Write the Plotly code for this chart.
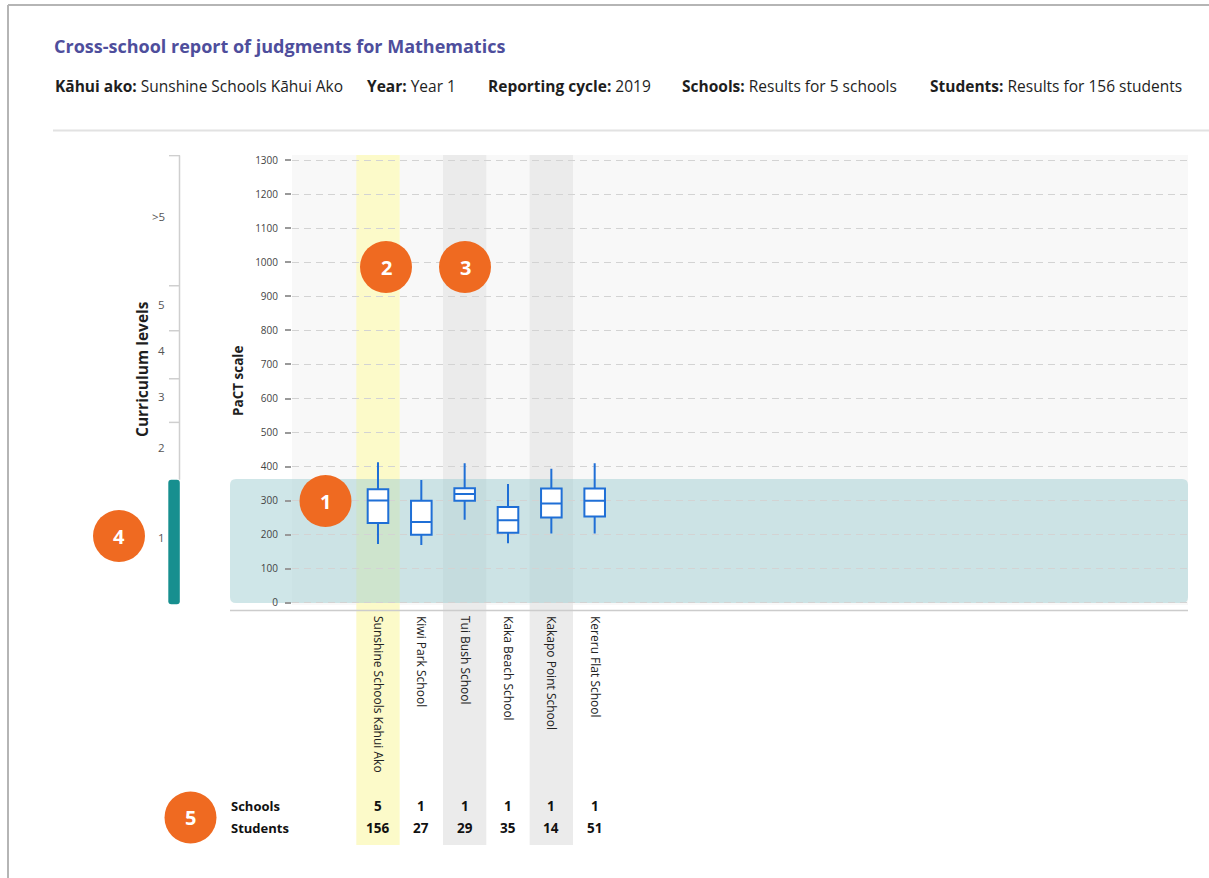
import plotly.graph_objects as go

# ---------------- data ----------------
schools = ["Sunshine Schools Kahui Ako", "Kiwi Park School", "Tui Bush School",
           "Kaka Beach School", "Kakapo Point School", "Kereru Flat School"]
upper_whisker = [413, 361, 410, 349, 394, 410]
q3_values = [334, 300, 337, 282, 336, 336]
medians = [301, 238, 320, 243, 292, 300]
q1_values = [235, 200, 300, 206, 251, 254]
lower_whisker = [173, 170, 244, 175, 204, 204]
school_counts = [5, 1, 1, 1, 1, 1]
student_counts = [156, 27, 29, 35, 14, 51]
pact_ticks = list(range(0, 1301, 100))
level_labels = ["1", "2", "3", "4", "5", ">5"]
level_bounds = [0, 362, 530, 658, 799, 931, 1313]

# ---------------- styles ----------------
column_fill = ["#fcfac9", None, "#ebebeb", None, "#ebebeb", None]
FONT = "Open Sans"
ORANGE = "#ef6a21"
BOX_BLUE = "#1f6fd6"

W, H = 1209, 878
L, R, T, B = 292, 1188, 155, 605
Y_RANGE = [-5.9, 1314.7]
X_RANGE = [-1.984, 18.69]


def px(x):
    return (x - L) / (R - L)


def py(y):
    return (B - y) / (B - T)


y_ppu = (B - T) / (Y_RANGE[1] - Y_RANGE[0])


def rounded_path(x0, x1, y0, y1, rx, ry):
    return (f"M {x0 + rx},{y0} L {x1 - rx},{y0} Q {x1},{y0} {x1},{y0 + ry} "
            f"L {x1},{y1 - ry} Q {x1},{y1} {x1 - rx},{y1} L {x0 + rx},{y1} "
            f"Q {x0},{y1} {x0},{y1 - ry} L {x0},{y0 + ry} Q {x0},{y0} {x0 + rx},{y0} Z")


def note(text, x, y, size, color="#1e1e1e", xref="paper", yref="paper",
         xanchor="center", yanchor="middle", **kw):
    return dict(text=text, xref=xref, yref=yref, x=x, y=y, xanchor=xanchor,
                yanchor=yanchor, showarrow=False,
                font=dict(family=FONT, size=size, color=color), **kw)


fig = go.Figure()
fig.add_trace(go.Box(
    x=list(range(len(schools))),
    q1=q1_values, median=medians, q3=q3_values,
    lowerfence=lower_whisker, upperfence=upper_whisker,
    width=0.475, whiskerwidth=0, boxpoints=False,
    fillcolor="white", line=dict(color=BOX_BLUE, width=2),
    showlegend=False, hoverinfo="skip",
))

shapes = []
# column highlights
for i, c in enumerate(column_fill):
    if c:
        shapes.append(dict(type="rect", xref="x", yref="paper", x0=i - 0.5, x1=i + 0.5,
                           y0=py(845), y1=1, fillcolor=c, line_width=0, layer="below"))
# level-1 band
r = 6
shapes.append(dict(type="path", xref="paper", yref="y", layer="below",
                   path=rounded_path(px(230), 1.0, level_bounds[0], level_bounds[1] + 2,
                                     r / (R - L), r / y_ppu),
                   fillcolor="rgba(160,206,210,0.5)", line_width=0))
# curriculum scale
shapes.append(dict(type="path", xref="paper", yref="y", layer="below",
                   path=rounded_path(px(168.3), px(179.8), level_bounds[0] - 4, level_bounds[1],
                                     3 / (R - L), 3 / y_ppu),
                   fillcolor="#178f8f", line_width=0))
shapes.append(dict(type="line", xref="paper", yref="y", x0=px(179.5), x1=px(179.5),
                   y0=level_bounds[1], y1=level_bounds[-1], line=dict(color="#cfcfcf", width=1.5)))
for b in level_bounds[2:]:
    shapes.append(dict(type="line", xref="paper", yref="y", x0=px(169), x1=px(180),
                       y0=b, y1=b, line=dict(color="#cfcfcf", width=1.5)))
# axis base line
shapes.append(dict(type="line", xref="paper", yref="paper", x0=px(230), x1=1,
                   y0=py(610.5), y1=py(610.5), line=dict(color="#cccccc", width=1.5)))
# frame and separator
shapes.append(dict(type="line", xref="paper", yref="paper", x0=px(8), x1=px(1209),
                   y0=py(5), y1=py(5), line=dict(color="#b5b5b5", width=2)))
shapes.append(dict(type="line", xref="paper", yref="paper", x0=px(8), x1=px(8),
                   y0=py(5), y1=py(878), line=dict(color="#b5b5b5", width=2)))
shapes.append(dict(type="line", xref="paper", yref="paper", x0=px(53), x1=px(1209),
                   y0=py(130.5), y1=py(130.5), line=dict(color="#e2e2e2", width=2)))

annotations = []
# badges
badges = [("1", 325.5, 501), ("2", 386, 267), ("3", 465, 267), ("4", 119, 536), ("5", 190.5, 817.5)]
rad = 26
for label, cx, cy in badges:
    shapes.append(dict(type="circle", xref="paper", yref="paper", layer="above",
                       x0=px(cx - rad), x1=px(cx + rad), y0=py(cy + rad), y1=py(cy - rad),
                       fillcolor=ORANGE, line_width=0))
    annotations.append(note(f"<b>{label}</b>", px(cx), py(cy), 20, color="white"))

# header
annotations.append(note("<b>Cross-school report of judgments for Mathematics</b>",
                        px(52), py(46), 18, color="#4e4e9c", xanchor="left"))
header_items = [("Kāhui ako:", "Sunshine Schools Kāhui Ako", 53),
                ("Year:", "Year 1", 365),
                ("Reporting cycle:", "2019", 486),
                ("Schools:", "Results for 5 schools", 680),
                ("Students:", "Results for 156 students", 928)]
for lab, val, x in header_items:
    annotations.append(note(f"<b>{lab}</b> {val}", px(x), py(86), 15.5, xanchor="left"))

# axis titles
annotations.append(note("<b>PaCT scale</b>", px(238), py(381), 13.5, textangle=-90))
annotations.append(note("<b>Curriculum levels</b>", px(142), py(369), 15.5, textangle=-90))
# curriculum level labels
for i, lab in enumerate(level_labels):
    mid = (level_bounds[i] + level_bounds[i + 1]) / 2
    annotations.append(note(lab, px(167), mid, 11.5, color="#555555", yref="y",
                            xanchor="right", yshift=4))

# bottom counts table
annotations.append(note("<b>Schools</b>", px(229), py(806), 13, color="#111111", xanchor="left"))
annotations.append(note("<b>Students</b>", px(229), py(828), 13, color="#111111", xanchor="left"))
for i, (sc, st) in enumerate(zip(school_counts, student_counts)):
    annotations.append(note(f"<b>{sc}</b>", i, py(806), 13.5, color="#111111", xref="x"))
    annotations.append(note(f"<b>{st}</b>", i, py(828), 13.5, color="#111111", xref="x"))

fig.update_layout(
    width=W, height=H, autosize=False,
    margin=dict(l=L, r=W - R, t=T, b=H - B, pad=0),
    paper_bgcolor="white", plot_bgcolor="#f8f8f8",
    shapes=shapes, annotations=annotations, showlegend=False,
    font=dict(family=FONT, color="#333333"),
)
fig.update_xaxes(range=X_RANGE, tickvals=list(range(len(schools))), ticktext=schools,
                 tickangle=90, showgrid=False, zeroline=False, showline=False, ticks="",
                 ticklabelstandoff=10,
                 tickfont=dict(family=FONT, size=12, color="#222222"))
fig.update_yaxes(range=Y_RANGE, tickvals=pact_ticks, showgrid=True, gridcolor="#d3d3d3",
                 griddash="7px,5px", gridwidth=1, zeroline=False, showline=False,
                 ticks="outside", ticklen=6, tickcolor="#999999", tickwidth=1.5,
                 ticklabelstandoff=5,
                 tickfont=dict(family=FONT, size=10, color="#444444"))

fig.write_html("out.html", config={"displayModeBar": False},
               post_script="document.body.style.margin='0';document.body.style.overflow='hidden';")
